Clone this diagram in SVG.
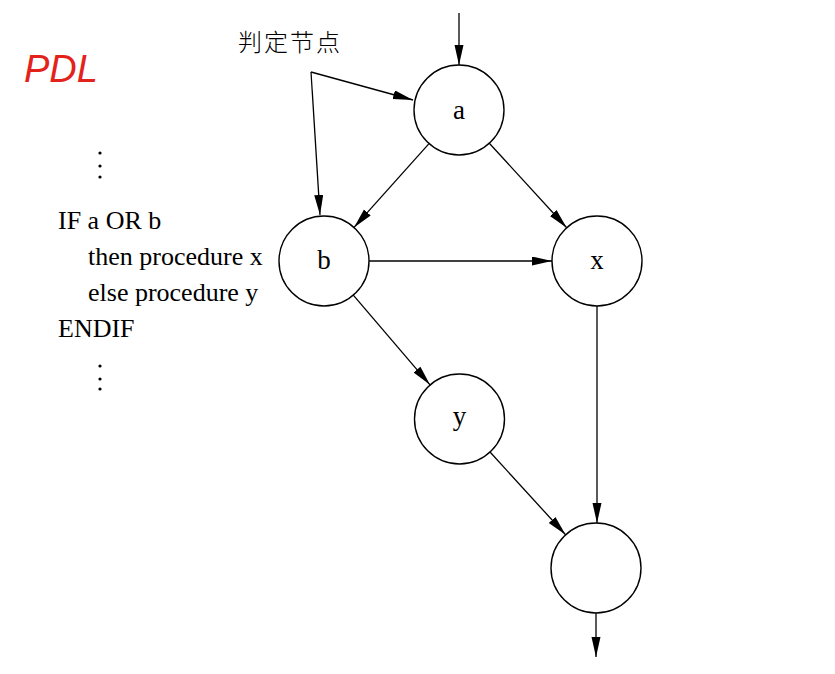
<svg xmlns="http://www.w3.org/2000/svg" width="835" height="674" viewBox="0 0 835 674">
<style>
.node circle{fill:#fff;stroke:#000;stroke-width:1.4}
.lbl{font-family:"Liberation Serif","Times New Roman",serif;font-size:27px;fill:#000;text-anchor:middle}
.code{font-family:"Liberation Serif","Times New Roman",serif;font-size:26px;fill:#000}
.edge{stroke:#000;stroke-width:1.3;fill:none;marker-end:url(#arr)}
.cjk{font-family:"Noto Sans CJK SC","Noto Sans",sans-serif;font-size:24px;letter-spacing:2px;fill:#000;font-weight:300}
.dot{fill:#000}
</style>
<defs>
<marker id="arr" markerUnits="userSpaceOnUse" markerWidth="20" markerHeight="10" refX="20" refY="4.5" orient="auto">
<path d="M0,0 L20,4.5 L0,9 Z" fill="#000"/>
</marker>
</defs>
<rect width="835" height="674" fill="#fff"/>
<text x="24" y="82" font-family="Liberation Sans,sans-serif" font-size="38" font-style="italic" fill="#e3231b">PDL</text>
<g id="code">
<circle class="dot" cx="100" cy="153" r="1.6"/><circle class="dot" cx="100" cy="166" r="1.6"/><circle class="dot" cx="100" cy="177" r="1.6"/>
<text class="code" x="58" y="229">IF a OR b</text>
<text class="code" x="88" y="265">then procedure x</text>
<text class="code" x="88" y="301">else procedure y</text>
<text class="code" x="58" y="337">ENDIF</text>
<circle class="dot" cx="100" cy="366" r="1.6"/><circle class="dot" cx="100" cy="379" r="1.6"/><circle class="dot" cx="100" cy="389" r="1.6"/>
</g>
<g id="label-decision">
<text class="cjk" x="238" y="51">判定节点</text>
</g>
<g id="connectors">
<line class="edge" x1="311" y1="72" x2="413" y2="100"/>
<line class="edge" x1="311" y1="72" x2="320" y2="215"/>
<line class="edge" x1="459" y1="13" x2="459" y2="65"/>
<line class="edge" x1="429" y1="143.6" x2="354" y2="227.4"/>
<line class="edge" x1="489.3" y1="143.2" x2="566.7" y2="227.8"/>
<line class="edge" x1="369" y1="261" x2="552" y2="261"/>
<line class="edge" x1="353.3" y1="295.2" x2="430" y2="384.8"/>
<line class="edge" x1="597" y1="306" x2="597" y2="523"/>
<line class="edge" x1="490" y1="452" x2="565.6" y2="534.8"/>
<line class="edge" x1="596" y1="613" x2="596" y2="657"/>
</g>
<g id="node-a" class="node"><circle cx="459" cy="110" r="45"/><text class="lbl" x="459" y="119">a</text></g>
<g id="node-b" class="node"><circle cx="324" cy="261" r="45"/><text class="lbl" x="324" y="269">b</text></g>
<g id="node-x" class="node"><circle cx="597" cy="261" r="45"/><text class="lbl" x="597" y="269">x</text></g>
<g id="node-y" class="node"><circle cx="459.5" cy="419" r="45"/><text class="lbl" x="459.5" y="425">y</text></g>
<g id="node-end" class="node"><circle cx="596" cy="568" r="45"/></g>
</svg>
